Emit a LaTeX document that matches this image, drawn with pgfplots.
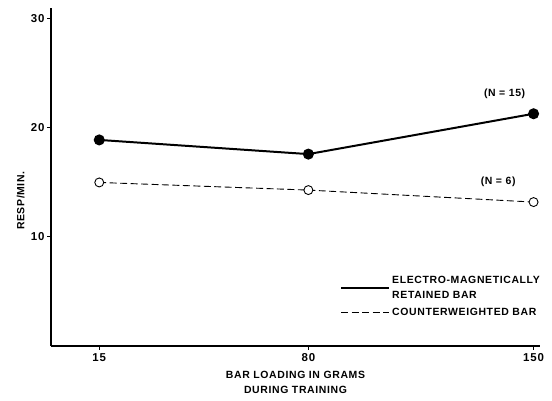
\documentclass[border=0pt]{standalone}
\usepackage{fontspec}
\setmainfont{Liberation Sans}
\usepackage{pgfplots}
\pgfplotsset{compat=1.18}
\newcommand{\tickfont}{\bfseries\fontsize{11.5}{12}\selectfont\addfontfeatures{LetterSpace=8}}
\newcommand{\labfont}{\bfseries\fontsize{10.5}{15}\selectfont\addfontfeatures{LetterSpace=6}}
\begin{document}
\begin{tikzpicture}
\begin{axis}[
  scale only axis, width=489bp, height=338bp,
  xmin=0, xmax=152, ymin=0, ymax=31,
  axis lines=left, axis line style={line width=2.2pt, -},
  xtick={15,80,150}, ytick={10,20,30},
  tick align=outside, major tick length=4pt, tick style={line width=1pt, black},
  /pgf/number format/assume math mode=true,
  ticklabel style={font=\tickfont},
  yticklabel style={xshift=1pt},
  label style={font=\labfont},
  xlabel={BAR LOADING IN GRAMS\\DURING TRAINING},
  xlabel style={align=center, yshift=-3pt},
  ylabel={RESP/MIN.},
  ylabel style={at={(axis description cs:-0.062,0.43)}, anchor=center},
  legend style={draw=none, fill=none, at={(axis description cs:0.585,0.218)}, anchor=north west,
    font=\labfont\linespread{1}\selectfont, nodes={align=left}, row sep=4pt},
  legend cell align=left,
  legend image code/.code={\draw[#1] (0bp,0bp) -- (48bp,0bp);},
]
\addplot[black, line width=2pt, mark=*, mark size=4.5pt, mark options={solid, fill=black}]
  coordinates {(15,18.9) (80,17.6) (150,21.3)};
\addlegendentry{ELECTRO-MAGNETICALLY\\RETAINED BAR}
\addplot[black, line width=0.9pt, dash pattern=on 7pt off 3.5pt, mark=*, mark size=4.5pt, mark options={solid, draw=black, fill=white, line width=0.9pt}]
  coordinates {(15,15.0) (80,14.3) (150,13.2)};
\addlegendentry{COUNTERWEIGHTED BAR}
\node[font=\labfont] at (axis cs:141,23.1) {(N = 15)};
\node[font=\labfont] at (axis cs:139,15.1) {(N = 6)};
\end{axis}
\path ([shift={(-51bp,-55bp)}]current axis.south west) rectangle ([shift={(12bp,8bp)}]current axis.north east);
\end{tikzpicture}
\end{document}
